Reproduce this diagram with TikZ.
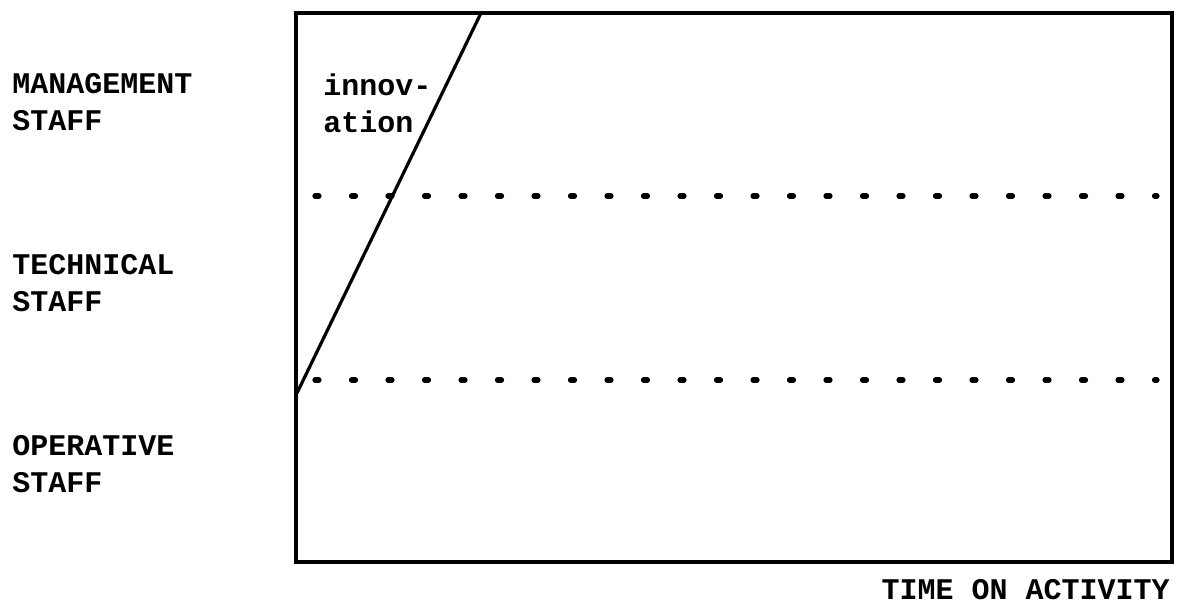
\documentclass[tikz,border=0pt]{standalone}
\usepackage{fontspec}
\setmonofont{Liberation Mono}
\usepackage{tikz}

\begin{document}
\begin{tikzpicture}[x=0.5pt,y=-0.5pt,
  lbl/.style={anchor=west, inner sep=0pt, align=left,
    font=\ttfamily\bfseries\fontsize{15}{18.5}\selectfont},
  sep/.style={line width=2.6pt, line cap=round, dash pattern=on 2pt off 16.25pt}]
  \useasboundingbox (0,0) rectangle (1189,607);

  % frame
  \coordinate (nw) at (296,13);
  \coordinate (se) at (1172,562);
  \draw[line width=2pt] (nw) rectangle (se);

  % staff levels
  \coordinate (t1) at (315,196);  \coordinate (t2) at (1157,196);
  \coordinate (b1) at (315,380);  \coordinate (b2) at (1157,380);
  \draw[sep] (t1) -- (t2);
  \draw[sep] (b1) -- (b2);

  \node[lbl] (mgmt) at (12,102) {MANAGEMENT\\STAFF};
  \node[lbl] (tech) at (12,283) {TECHNICAL\\STAFF};
  \node[lbl] (oper) at (12,464) {OPERATIVE\\STAFF};

  % innovation line
  \coordinate (start) at (297,393);
  \coordinate (stop) at (481,13);
  \draw[line width=1.6pt] (start) -- (stop);
  \node[lbl] (innov) at (323,103) {innov-\\ation};

  \node[lbl, anchor=east] (time) at (1170,590) {TIME ON ACTIVITY};
\end{tikzpicture}
\end{document}
